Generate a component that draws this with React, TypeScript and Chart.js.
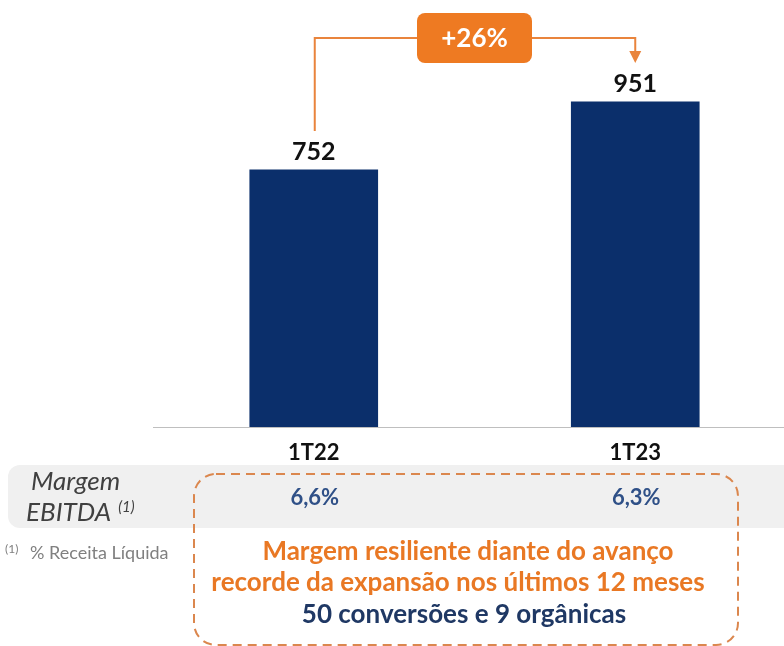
import React, { useEffect, useRef } from "react";
import { Chart, registerables } from "chart.js";

Chart.register(...registerables);

const categories = ["1T22", "1T23"];
const ebitdaValues = [752, 951];
const marginLabels = ["6,6%", "6,3%"];
const growthLabel = "+26%";
const rowTitle = ["Margem", "EBITDA"];
const footnote = "% Receita Líquida";
const boxLines = [
  "Margem resiliente diante do avanço",
  "recorde da expansão nos últimos 12 meses",
  "50 conversões e 9 orgânicas",
];

const FONT = "Lato, 'Open Sans', sans-serif";
const NAVY = "#0B2F6B";
const ORANGE = "#EE7A22";
const LINE_ORANGE = "#E9843C";

const overlayPlugin = {
  id: "overlay",
  beforeDraw(chart: any) {
    const ctx = chart.ctx;
    ctx.save();
    ctx.fillStyle = "#F0F0F0";
    ctx.beginPath();
    ctx.roundRect(8, 465, 800, 63, [12, 0, 0, 12]);
    ctx.fill();
    ctx.restore();
  },
  afterDraw(chart: any) {
    const ctx = chart.ctx;
    const meta = chart.getDatasetMeta(0);
    const b0 = meta.data[0];
    const b1 = meta.data[1];
    ctx.save();

    // value labels
    ctx.fillStyle = "#111";
    ctx.font = `bold 25px ${FONT}`;
    ctx.textAlign = "center";
    ctx.textBaseline = "alphabetic";
    meta.data.forEach((bar: any, i: number) => {
      ctx.fillText(String(ebitdaValues[i]), bar.x, bar.y - 10);
    });

    // bracket
    const yTop = 38;
    ctx.strokeStyle = LINE_ORANGE;
    ctx.lineWidth = 2;
    ctx.beginPath();
    ctx.moveTo(b0.x + 1, b0.y - 39);
    ctx.lineTo(b0.x + 1, yTop);
    ctx.lineTo(b1.x, yTop);
    ctx.lineTo(b1.x, b1.y - 50);
    ctx.stroke();
    ctx.fillStyle = LINE_ORANGE;
    ctx.beginPath();
    ctx.moveTo(b1.x - 6, b1.y - 51);
    ctx.lineTo(b1.x + 6, b1.y - 51);
    ctx.lineTo(b1.x, b1.y - 39);
    ctx.closePath();
    ctx.fill();

    // growth box
    const cx = (b0.x + b1.x) / 2;
    ctx.fillStyle = ORANGE;
    ctx.beginPath();
    ctx.roundRect(cx - 57.5, 13, 115, 50, 8);
    ctx.fill();
    ctx.fillStyle = "#FFFFFF";
    ctx.font = `bold 26px ${FONT}`;
    ctx.fillText(growthLabel, cx, 47);

    // row title
    ctx.fillStyle = "#404040";
    ctx.font = `italic 26px ${FONT}`;
    ctx.textAlign = "left";
    ctx.fillText(rowTitle[0], 31, 490);
    ctx.fillText(rowTitle[1], 26, 521);
    const w = ctx.measureText(rowTitle[1]).width;
    ctx.font = `italic 15px ${FONT}`;
    ctx.fillText("(1)", 26 + w + 7, 512);

    // margins
    ctx.fillStyle = "#2F5087";
    ctx.font = `bold 22px ${FONT}`;
    ctx.textAlign = "center";
    meta.data.forEach((bar: any, i: number) => {
      ctx.fillText(marginLabels[i], bar.x + 1, 505);
    });

    // footnote
    ctx.fillStyle = "#808080";
    ctx.textAlign = "left";
    ctx.font = `12px ${FONT}`;
    ctx.fillText("(1)", 5, 553);
    ctx.font = `18px ${FONT}`;
    ctx.fillText(footnote, 30, 559);

    // dashed box
    ctx.strokeStyle = "#DB874E";
    ctx.lineWidth = 2;
    ctx.setLineDash([9, 6]);
    ctx.beginPath();
    ctx.roundRect(194, 474, 544, 171, 22);
    ctx.stroke();
    ctx.setLineDash([]);

    // box text
    ctx.textAlign = "center";
    ctx.font = `bold 26px ${FONT}`;
    ctx.fillStyle = "#E97824";
    ctx.fillText(boxLines[0], 468, 560);
    ctx.fillText(boxLines[1], 458, 591);
    ctx.fillStyle = "#1F3864";
    ctx.fillText(boxLines[2], 464, 623);

    ctx.restore();
  },
};

export default function App() {
  const ref = useRef<HTMLCanvasElement>(null);
  useEffect(() => {
    if (!ref.current) return;
    const chart = new Chart(ref.current, {
      type: "bar",
      data: {
        labels: categories,
        datasets: [
          {
            data: ebitdaValues,
            backgroundColor: NAVY,
            barThickness: 128,
          },
        ],
      },
      options: {
        responsive: false,
        animation: false,
        layout: { padding: { top: 51, bottom: 179, left: 153, right: 0 } },
        plugins: { legend: { display: false }, tooltip: { enabled: false } },
        scales: {
          y: { display: false, min: 0, max: 1100 },
          x: {
            grid: { display: false, drawTicks: false },
            border: { display: true, color: "#BFBFBF", width: 1 },
            ticks: {
              color: "#111",
              font: { family: FONT, weight: "bold", size: 22 },
              padding: 13,
            },
            afterFit: (scale: any) => {
              scale.height = 40;
            },
          },
        },
      },
      plugins: [overlayPlugin],
    });
    return () => chart.destroy();
  }, []);
  return (
    <div
      style={{
        position: "absolute",
        left: 0,
        top: 0,
        width: 784,
        height: 646,
        overflow: "hidden",
        background: "#fff",
      }}
    >
      <canvas ref={ref} width={796} height={646} style={{ display: "block" }} />
    </div>
  );
}
